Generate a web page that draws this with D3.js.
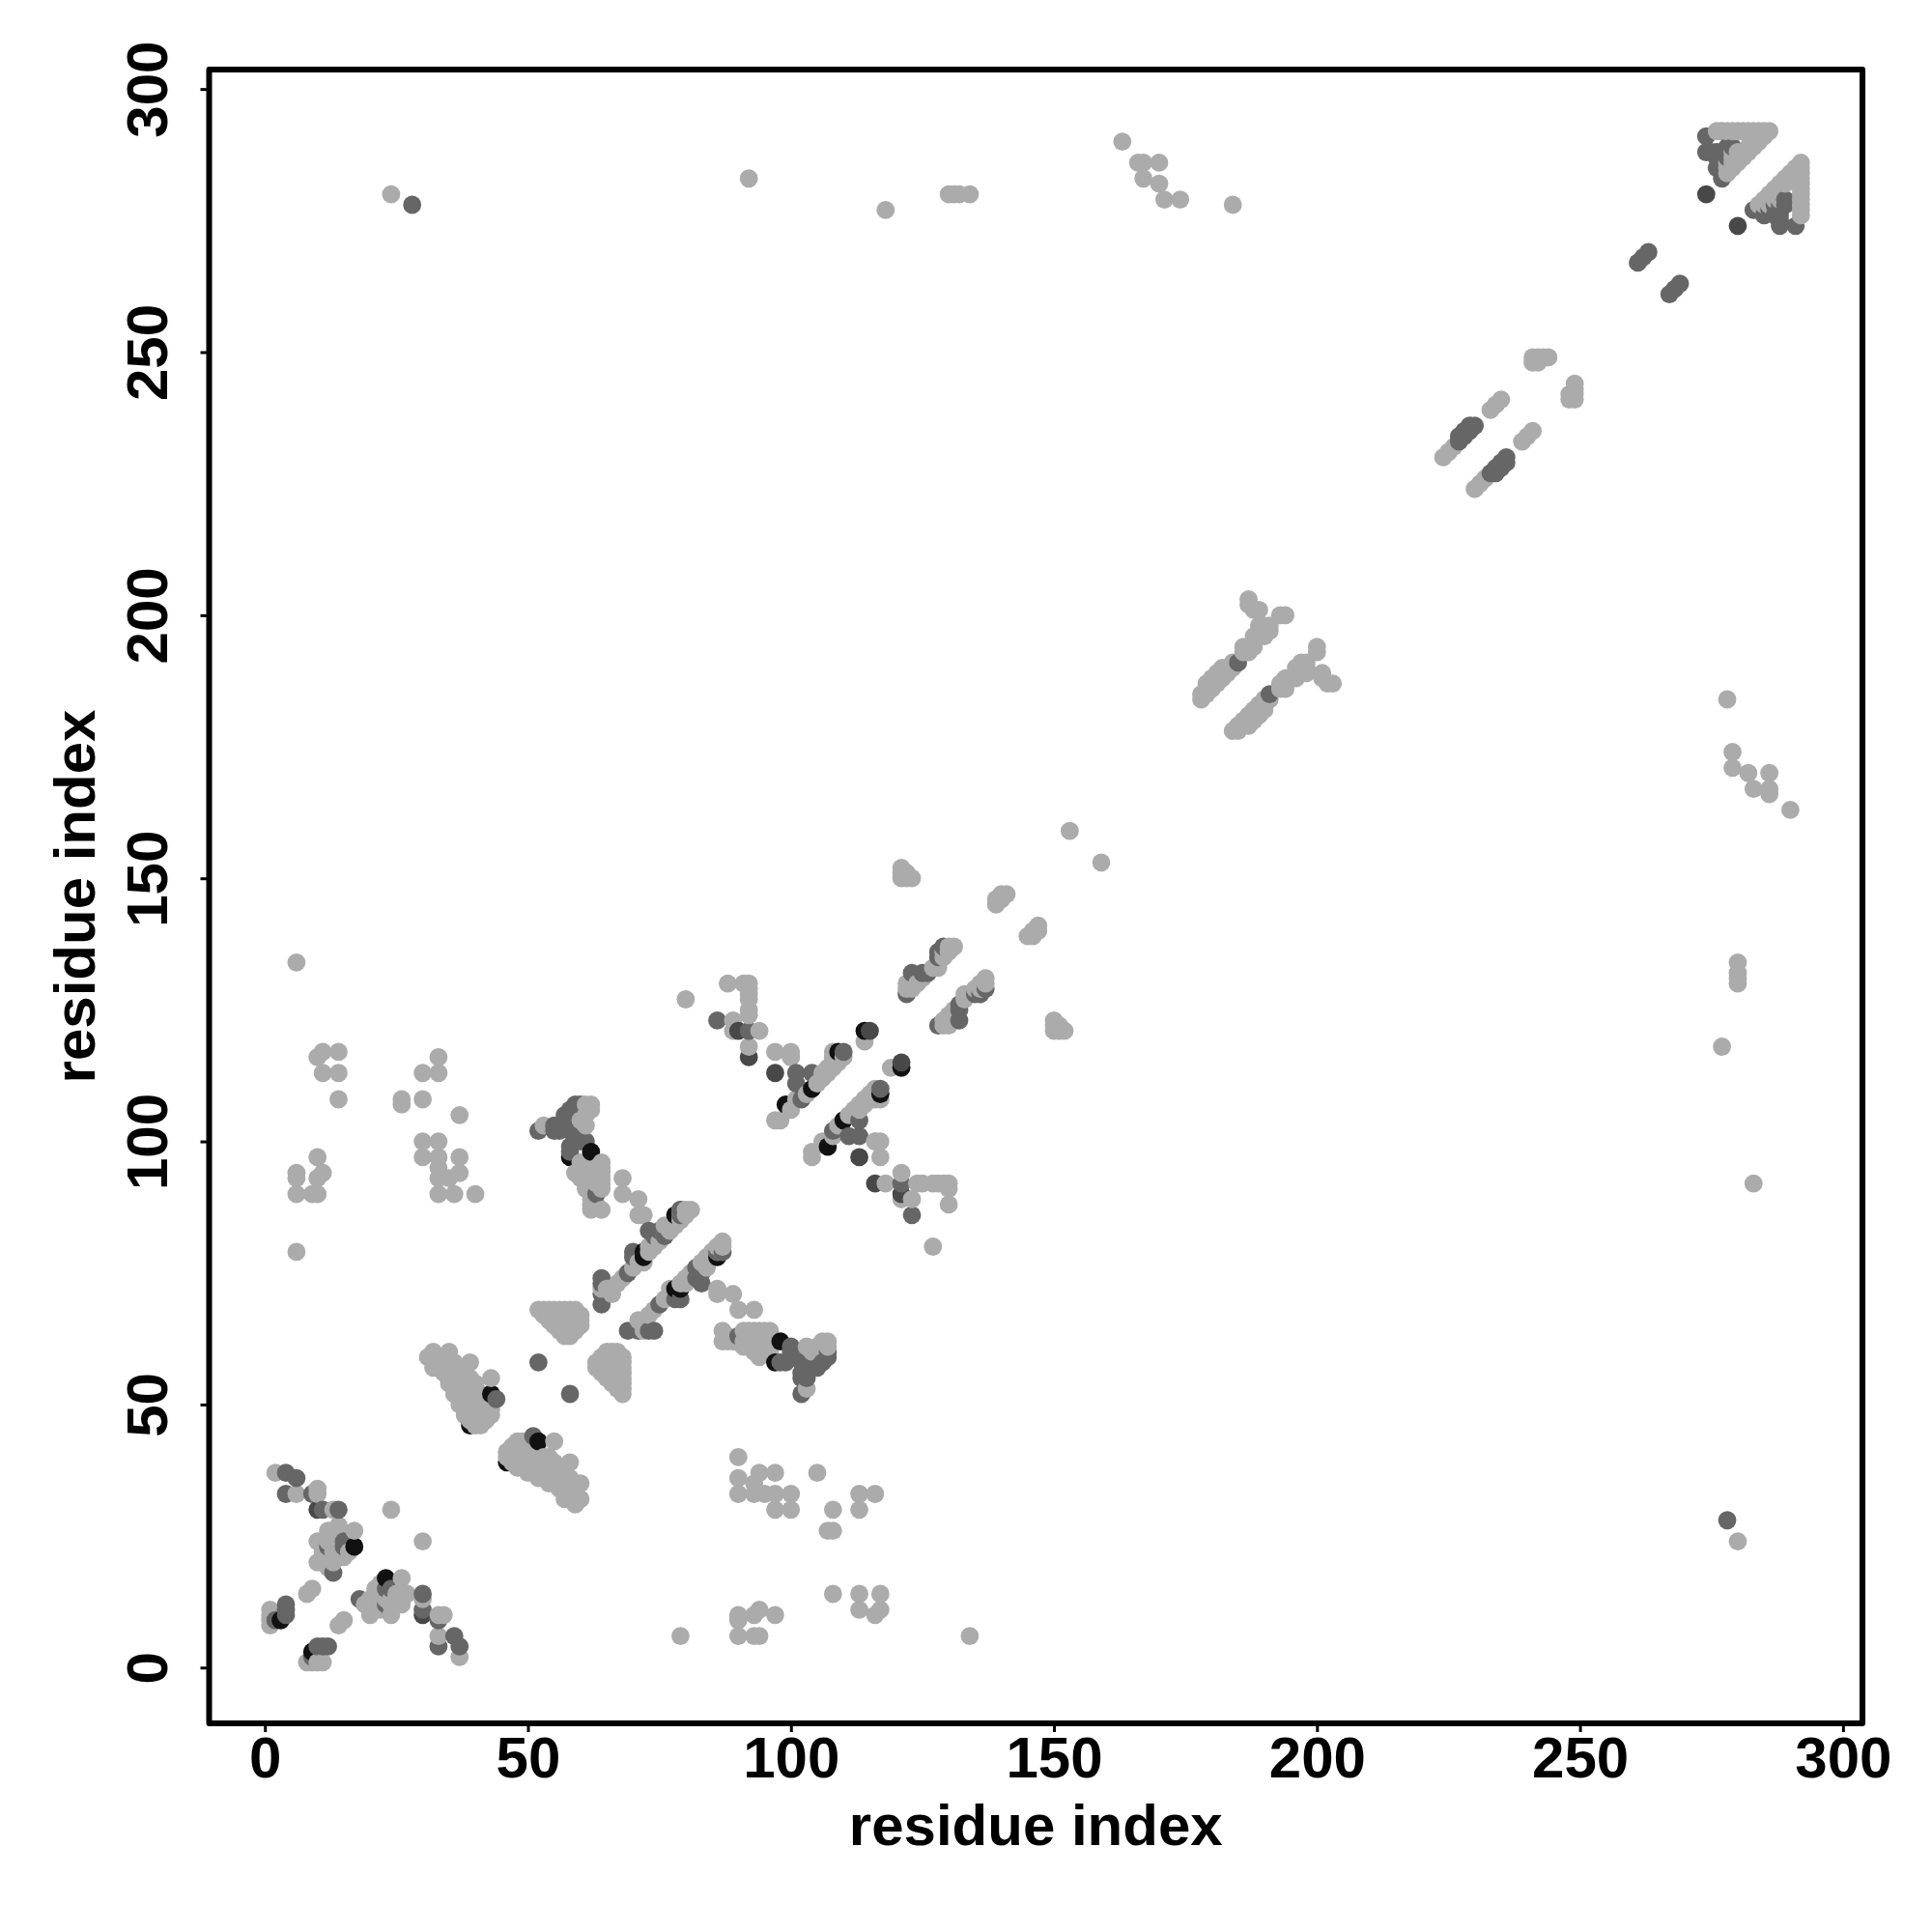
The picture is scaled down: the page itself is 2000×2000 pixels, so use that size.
<!DOCTYPE html>
<html><head><meta charset="utf-8">
<script src="https://cdn.jsdelivr.net/npm/d3@7"></script>
<style>html,body{margin:0;background:#fff}svg{display:block}</style>
</head><body><svg id="c" width="2000" height="2000"></svg>
<script>
// residue contacts [i, j] with i < j; the map is symmetric
const contactsLight = [
[1,8],[1,9],[1,10],[1,11],[8,14],[9,15],[2,37],[6,33],[10,34],[10,33],[13,30],[14,27],[14,26],[17,26],[10,24],[10,20],[12,24],[13,24],[11,22],[12,21],[14,21],[13,20],[11,20],[14,22],[15,22],[15,21],[16,22],[12,26],[13,26],[14,23],[13,22],[13,23],[12,19],[12,22],[13,25],[14,25],[24,30],
[32,60],[35,60],[31,59],[33,59],[34,59],[35,59],[34,58],[35,58],[36,58],[39,58],[32,57],[35,57],[36,57],[37,57],[38,57],[34,56],[35,56],[36,56],[37,56],[38,56],[35,55],[36,55],[37,55],[38,55],[39,55],[43,55],[35,54],[36,54],[37,54],[38,54],[39,54],[40,54],[36,53],[37,53],[38,53],[39,53],[40,53],[36,52],[37,52],[38,52],[39,52],[40,52],[41,52],[37,51],[38,51],[39,51],[40,51],[41,51],[42,51],[37,50],[38,50],[39,50],[40,50],[41,50],[42,50],[38,49],[39,49],[40,49],[41,49],[42,49],[43,49],[38,48],[39,48],[40,48],[41,48],[42,48],[43,48],[39,47],[40,47],[41,47],[42,47],[40,46],[41,46],[32,59],
[52,68],[53,68],[54,68],[55,68],[56,68],[57,68],[58,68],[59,68],[53,67],[54,67],[55,67],[56,67],[57,67],[58,67],[59,67],[60,67],[54,66],[55,66],[56,66],[57,66],[58,66],[59,66],[60,66],[55,65],[56,65],[57,65],[58,65],[59,65],[60,65],[56,64],[57,64],[58,64],[59,64],[57,63],[58,63],
[64,72],[65,72],[66,72],[67,73],[68,74],[66,71],[70,76],[71,77],[72,77],[73,79],[73,80],[74,80],[74,81],[75,81],[76,82],[77,83],[76,84],[77,84],[78,84],[78,85],[79,85],[79,86],[80,86],[79,87],[80,87],[81,87],
[68,93],[68,90],[71,89],[71,86],[72,86],
[53,103],[61,107],[62,107],[62,106],[61,105],[60,104],[61,103],[59,94],[60,94],[60,95],[60,96],[61,95],[64,96],[64,95],[64,94],[64,93],[64,92],[64,91],[61,96],[62,95],[63,95],[60,93],[61,93],[62,93],[63,93],[61,92],[63,92],[61,91],[62,91],[62,90],[62,89],[62,88],[63,88],[62,87],[64,87],
[6,134],[10,116],[11,117],[14,117],[11,113],[14,113],[14,108],[26,108],[26,107],[30,113],[33,116],[33,113],[30,108],[30,100],[33,100],[30,97],[33,97],[33,95],[33,93],[33,90],[36,90],[40,90],[37,105],[37,97],[37,94],[35,93],[6,94],[6,93],[6,90],[9,90],[10,90],[10,97],[11,94],[10,93],[6,79],
[97,104],[98,104],[100,106],[101,108],[103,109],[105,111],[106,112],[106,113],[107,113],[107,114],[108,114],[108,115],[109,115],[109,116],[110,116],[108,116],[108,117],[114,119],
[92,118],[94,121],[89,123],[89,121],[92,125],[92,124],[92,128],[92,127],[88,130],[91,130],[92,130],[92,129],[80,127],[97,117],[100,117],[100,116],[116,100],
[122,129],[122,130],[123,129],[124,130],[125,131],[127,133],[128,134],[128,133],[129,135],[129,136],[130,136],[130,137],[131,137],
[121,150],[121,151],[121,152],[122,150],[122,151],[123,150],
[139,145],[139,146],[140,146],[140,147],[141,147],
[153,159],[163,290],[166,286],[167,286],[170,286],[167,283],[170,282],[171,279],[174,279],[184,278],
[24,280],[92,283],[118,277],[130,280],[131,280],[132,280],[134,280],
[178,184],[178,185],[179,185],[180,186],[181,187],[182,188],[183,189],[184,190],[179,187],[180,187],[180,188],[181,188],[181,189],[182,189],[182,190],[183,190],[184,191],[186,193],[186,194],[187,193],[187,194],[188,194],[188,195],[188,196],[189,196],[189,197],[189,198],[190,196],[190,197],[190,198],[191,197],[191,198],[187,203],[187,202],[189,201],[188,201],[193,200],[194,200],
[224,230],[225,231],[226,232],[233,239],[234,240],[235,241],[241,249],[242,249],[243,249],[244,249],[241,248],[242,248],
[276,292],[277,292],[278,292],[279,292],[280,292],[281,292],[282,292],[283,292],[284,292],[285,292],[286,292],[284,291],[285,291],[278,284],[279,285],[280,286],[281,287],[282,288],[283,289],[284,290],[278,285],[279,286],[280,287],[281,288],[282,289],[283,290],[278,286],[279,287],[280,288],[279,288]
];
const contactsMid = [
[4,37],[6,36],[4,33],[9,33],[11,30],[14,30],[15,24],[12,23],[13,18],[15,23],[4,12],[4,11],[4,10],[2,9],
[44,51],[52,58],
[64,69],[64,71],[64,73],[64,74],[69,75],[70,79],[70,78],[73,83],[74,82],[75,83],[76,82],[79,87],[79,86],
[52,102],[55,102],[55,103],[56,103],[56,102],[57,105],[57,103],[58,104],[59,107],[60,107],[58,106],[58,102],[59,102],[60,100],[61,100],[58,99],[58,98],[59,100],[60,101],[63,90],
[28,278],
[102,108],[101,111],[104,113],[101,113],[110,117],[86,123],[92,121],
[122,128],[123,132],[125,132],[126,132],[128,135],[129,137],[128,136],
[185,191],[227,233],[227,234],[228,234],[229,235],[230,236],[228,235],[229,236],
[261,267],[262,268],[263,269],
[274,291],[274,288],[275,288],[276,285],[276,287],[277,283],[277,286],[277,288],[278,288],[278,289],[279,289],[278,287],[276,288]
];
const contactsDark = [
[10,30],[97,113],[92,116],[90,121],[115,121],[274,280]
];
const contactsBlack = [
[3,9],[17,23],[43,52],[39,46],[72,78],[72,79],[78,86],[62,98],[58,97],[99,107],[104,110],[109,117],[114,121]
];
const xTicks = [0,50,100,150,200,250,300];
const yTicks = [0,50,100,150,200,250,300];
const axisTitle = "residue index";

const shades = [[contactsLight,"#ababab"],[contactsMid,"#666666"],[contactsDark,"#484848"],[contactsBlack,"#111111"]];
const rows = [];
for (const [list,fill] of shades) for (const [i,j] of list) {
  rows.push({x:i,y:j,fill}); rows.push({x:j,y:i,fill});
}
rows.sort((a,b)=>d3.ascending(a.x,b.x)||d3.ascending(a.y,b.y));

const L=216.5,R=1928,T=72,B=1784;
const x=d3.scaleLinear().domain([-10.6,303.7]).range([L,R]);
const y=d3.scaleLinear().domain([-10.6,303.7]).range([B,T]);
const svg=d3.select("#c");
const font="'Liberation Sans', Arial, sans-serif";

svg.append("g").selectAll("circle").data(rows).join("circle")
  .attr("cx",d=>x(d.x)).attr("cy",d=>y(d.y)).attr("r",9.4).attr("fill",d=>d.fill);

const gx=svg.append("g").attr("transform",`translate(0,${B})`)
  .call(d3.axisBottom(x).tickValues(xTicks).tickSize(9).tickFormat(d3.format("d")));
const gy=svg.append("g").attr("transform",`translate(${L},0)`)
  .call(d3.axisLeft(y).tickValues(yTicks).tickSize(9).tickFormat(d3.format("d")));
for (const g of [gx,gy]) {
  g.select(".domain").remove();
  g.selectAll("line").attr("stroke","#000").attr("stroke-width",3);
  g.selectAll("text").attr("fill","#000").attr("font-family",font).attr("font-weight","bold").attr("font-size",60);
}
gx.selectAll("text").attr("y",56).attr("dy",0).attr("text-anchor","middle");
gy.selectAll("text").attr("x",0).attr("dy",0).attr("text-anchor","middle")
  .attr("transform","translate(-44,0) rotate(-90)");

svg.append("rect").attr("x",L).attr("y",T).attr("width",R-L).attr("height",B-T)
  .attr("fill","none").attr("stroke","#000").attr("stroke-width",6).attr("stroke-linejoin","round");

svg.append("text").text(axisTitle).attr("x",(L+R)/2).attr("y",1910).attr("text-anchor","middle")
  .attr("font-family",font).attr("font-weight","bold").attr("font-size",60);
svg.append("text").text(axisTitle).attr("transform",`translate(98,${(T+B)/2}) rotate(-90)`).attr("text-anchor","middle")
  .attr("font-family",font).attr("font-weight","bold").attr("font-size",60);
</script></body></html>
